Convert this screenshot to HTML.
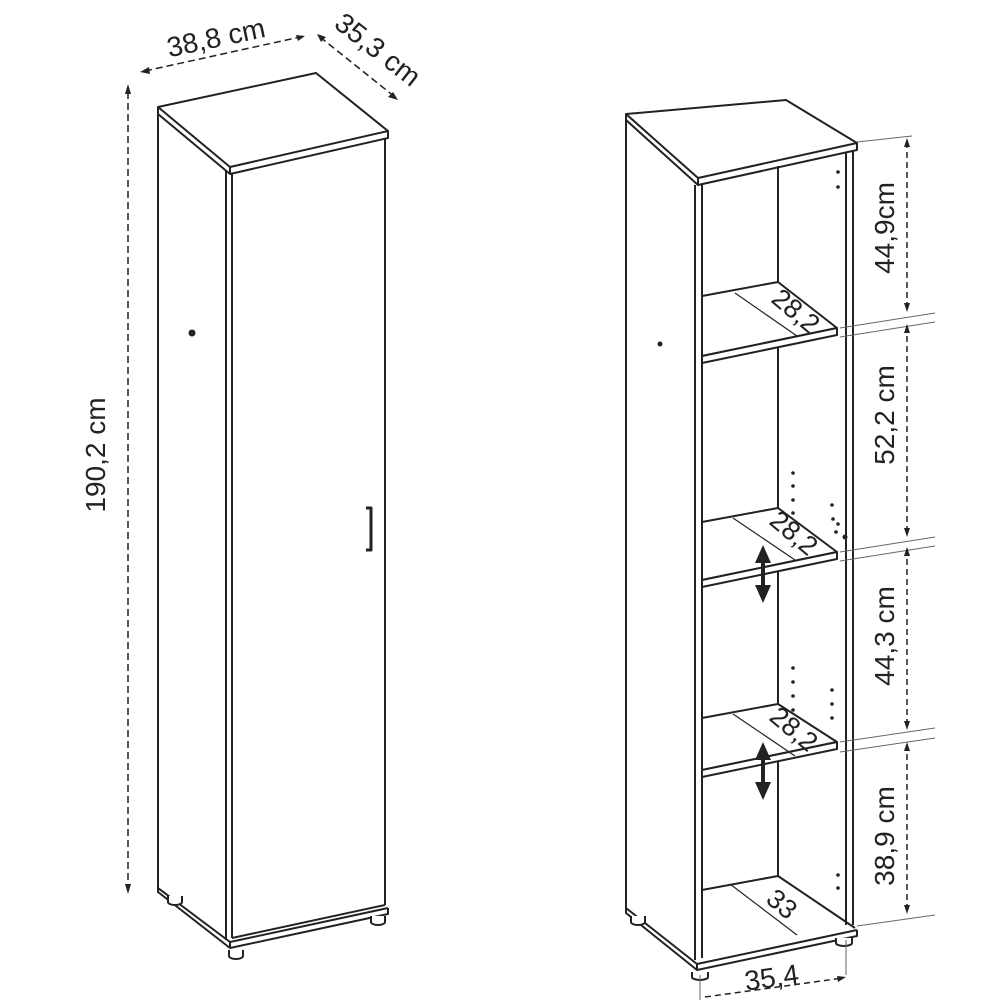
<!DOCTYPE html>
<html><head><meta charset="utf-8"><style>
html,body{margin:0;padding:0;background:#fff;}
svg{display:block}
text{font-family:"Liberation Sans",sans-serif;fill:#222;}
</style></head><body>
<svg width="1000" height="1000" viewBox="0 0 1000 1000" xmlns="http://www.w3.org/2000/svg">
<g fill="none" stroke="#222" stroke-width="2" stroke-linejoin="round">
<!-- LEFT CABINET -->
<polygon points="158,107 316,73 388,131 230,167" fill="#fff"/>
<polyline points="158,107 158,114 230,174 388,138 388,131"/>
<line x1="230" y1="167" x2="230" y2="174"/>
<line x1="158" y1="114" x2="158" y2="888"/>
<line x1="232" y1="174" x2="232" y2="938"/>
<line x1="226" y1="170" x2="226" y2="940"/>
<line x1="385" y1="138" x2="385" y2="905"/>
<line x1="232" y1="938" x2="385" y2="905"/>
<polyline points="158,888 230,942 388,908"/>
<polyline points="158,888 158,892 230,948 388,914 388,908"/>
<line x1="230" y1="942" x2="230" y2="948"/>
<path d="M168,896 v6 a7,3 0 0 0 14,0 v-6" fill="#fff"/>
<path d="M229,950 v6 a7,3 0 0 0 14,0 v-6" fill="#fff"/>
<path d="M371,916 v6 a7,3 0 0 0 14,0 v-6" fill="#fff"/>
<path d="M366,508 h5 v42 h-5" stroke-width="3"/>
<circle cx="192" cy="333" r="2.5" fill="#222"/>
</g>
<!-- left dims -->
<g stroke="#222" stroke-width="1.5" stroke-dasharray="7,4" fill="none">
<line x1="128" y1="92" x2="128" y2="890"/>
<line x1="145" y1="71" x2="300" y2="37"/>
<line x1="320" y1="37" x2="395" y2="97"/>
</g>
<g fill="#222">
<polygon points="128,84 125,94 131,94"/>
<polygon points="128,894 125,884 131,884"/>
<polygon points="140,72 149,67 150,74"/>
<polygon points="305,36 296,35 298,41"/>
<polygon points="317,34 326,37 321,42"/>
<polygon points="398,100 388,97 393,92"/>
</g>
<text x="105" y="455" font-size="28" transform="rotate(-90 105 455)" text-anchor="middle">190,2 cm</text>
<text x="218" y="47" font-size="28" transform="rotate(-12 218 47)" text-anchor="middle">38,8 cm</text>
<text x="372" y="57" font-size="28" transform="rotate(38 372 57)" text-anchor="middle">35,3 cm</text>

<!-- RIGHT CABINET -->
<g fill="none" stroke="#222" stroke-width="2" stroke-linejoin="round">
<polygon points="626,114 786,100 857,143 698,178" fill="#fff"/>
<polyline points="626,114 626,120 698,185 857,150 857,143"/>
<line x1="698" y1="178" x2="698" y2="185"/>
<line x1="626" y1="120" x2="626" y2="908"/>
<line x1="695" y1="185" x2="695" y2="960"/>
<line x1="702" y1="185" x2="702" y2="958"/>
<line x1="846" y1="152" x2="846" y2="925"/>
<line x1="853" y1="150" x2="853" y2="925"/>
<line x1="778" y1="166" x2="778" y2="876"/>
<g fill="#fff">
<polygon points="702,296 778,282 837,328 702,356"/>
<polygon points="702,356 837,328 837,335 702,363"/>
<polygon points="702,522 778,508 837,552 702,580"/>
<polygon points="702,580 837,552 837,559 702,587"/>
<polygon points="702,718 778,704 837,742 702,770"/>
<polygon points="702,770 837,742 837,749 702,777"/>
</g>
<polyline points="702,890 778,876 855,928"/>
<polyline points="626,908 697,964 857,930"/>
<polyline points="626,908 626,913 697,970 857,936 857,930"/>
<line x1="697" y1="964" x2="697" y2="970"/>
<path d="M631,916 v6 a7,3 0 0 0 14,0 v-6" fill="#fff"/>
<path d="M692,972 v5 a8,3 0 0 0 16,0 v-5" fill="#fff"/>
<path d="M836,938 v5 a8,3 0 0 0 16,0 v-5" fill="#fff"/>
</g>
<g fill="#222">
<circle cx="660" cy="344" r="2.5"/>
<circle cx="838" cy="172" r="1.8"/><circle cx="838" cy="187" r="1.8"/>
<circle cx="793" cy="473" r="1.8"/><circle cx="793" cy="486" r="1.8"/><circle cx="793" cy="500" r="1.8"/><circle cx="793" cy="513" r="1.8"/>
<circle cx="832" cy="505" r="1.8"/><circle cx="833" cy="519" r="1.8"/><circle cx="838" cy="524" r="1.8"/><circle cx="836" cy="532" r="1.8"/><circle cx="845" cy="537" r="2.5"/>
<circle cx="793" cy="668" r="1.8"/><circle cx="793" cy="682" r="1.8"/><circle cx="793" cy="696" r="1.8"/><circle cx="793" cy="710" r="1.8"/>
<circle cx="832" cy="690" r="1.8"/><circle cx="832" cy="704" r="1.8"/><circle cx="832" cy="718" r="1.8"/>
<circle cx="838" cy="875" r="1.8"/><circle cx="838" cy="888" r="1.8"/>
<polygon points="763,545 755,563 771,563"/><rect x="761" y="563" width="4" height="22"/><polygon points="763,603 755,585 771,585"/>
<polygon points="763,742 755,760 771,760"/><rect x="761" y="760" width="4" height="22"/><polygon points="763,800 755,782 771,782"/>
</g>
<g stroke="#222" stroke-width="1.2" fill="none">
<line x1="735" y1="293" x2="797" y2="336"/>
<line x1="733" y1="518" x2="795" y2="560"/>
<line x1="733" y1="714" x2="795" y2="756"/>
<line x1="730" y1="884" x2="797" y2="935"/>
</g>
<text x="790" y="318" font-size="27" transform="rotate(40 790 318)" text-anchor="middle">28,2</text>
<text x="788" y="540" font-size="27" transform="rotate(40 788 540)" text-anchor="middle">28,2</text>
<text x="788" y="736" font-size="27" transform="rotate(40 788 736)" text-anchor="middle">28,2</text>
<text x="776" y="911" font-size="27" transform="rotate(40 776 911)" text-anchor="middle">33</text>
<g stroke="#666" stroke-width="1" fill="none">
<line x1="857" y1="142" x2="912" y2="136"/>
<line x1="840" y1="328" x2="935" y2="313"/>
<line x1="840" y1="337" x2="935" y2="322"/>
<line x1="840" y1="552" x2="935" y2="537"/>
<line x1="840" y1="561" x2="935" y2="546"/>
<line x1="840" y1="742" x2="935" y2="728"/>
<line x1="840" y1="752" x2="935" y2="738"/>
<line x1="857" y1="926" x2="935" y2="915"/>
<line x1="700" y1="975" x2="700" y2="1000"/>
<line x1="846" y1="940" x2="846" y2="975"/>
</g>
<g stroke="#222" stroke-width="1.5" stroke-dasharray="6,4" fill="none">
<line x1="907" y1="142" x2="907" y2="310"/>
<line x1="907" y1="326" x2="907" y2="535"/>
<line x1="907" y1="549" x2="907" y2="728"/>
<line x1="907" y1="744" x2="907" y2="912"/>
<line x1="705" y1="997" x2="843" y2="978"/>
</g>
<g fill="#222">
<polygon points="907,138 904,147 910,147"/><polygon points="907,312 904,303 910,303"/>
<polygon points="907,324 904,333 910,333"/><polygon points="907,537 904,528 910,528"/>
<polygon points="907,547 904,556 910,556"/><polygon points="907,730 904,721 910,721"/>
<polygon points="907,742 904,751 910,751"/><polygon points="907,914 904,905 910,905"/>
<polygon points="846,977 837,976 838,982"/>
</g>
<text x="894" y="228" font-size="28" transform="rotate(-90 894 228)" text-anchor="middle">44,9cm</text>
<text x="894" y="415" font-size="28" transform="rotate(-90 894 415)" text-anchor="middle">52,2 cm</text>
<text x="894" y="636" font-size="28" transform="rotate(-90 894 636)" text-anchor="middle">44,3 cm</text>
<text x="894" y="836" font-size="28" transform="rotate(-90 894 836)" text-anchor="middle">38,9 cm</text>
<text x="773" y="987" font-size="28" transform="rotate(-8 773 987)" text-anchor="middle">35,4</text>
</svg>
</body></html>
